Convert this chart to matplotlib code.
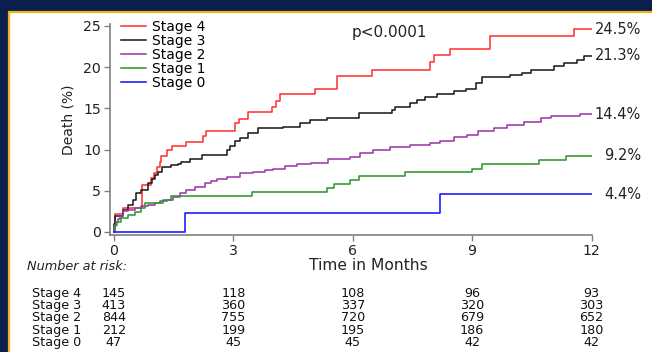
import matplotlib
matplotlib.use('Agg')
import matplotlib.pyplot as plt
from matplotlib.patches import Rectangle
from matplotlib.transforms import blended_transform_factory

# step curves (months, cumulative death %)
t4 = [0, 0.02, 0.23, 0.70, 0.93, 1.00, 1.07, 1.15, 1.17, 1.33, 1.45, 1.82, 2.24, 2.30, 3.04, 3.15, 3.38, 3.97, 4.07, 4.16, 5.05, 5.60, 6.48, 7.95, 8.03, 8.45, 9.44, 11.56, 12.0]
v4 = [0, 2.2, 2.9, 5.7, 6.5, 7.2, 7.9, 8.5, 9.2, 10.0, 10.4, 10.9, 11.6, 12.3, 13.2, 13.7, 14.5, 15.2, 15.9, 16.7, 17.4, 18.9, 19.7, 20.6, 21.5, 22.2, 23.8, 24.6, 24.6]

t3 = [0, 0.01, 0.03, 0.23, 0.35, 0.48, 0.56, 0.69, 0.86, 0.95, 1.03, 1.11, 1.20, 1.44, 1.61, 1.69, 1.90, 2.20, 2.79, 2.83, 2.92, 3.04, 3.17, 3.38, 3.63, 4.25, 4.68, 4.93, 5.35, 6.15, 6.98, 7.05, 7.45, 7.62, 7.82, 8.12, 8.54, 8.84, 9.10, 9.25, 9.96, 10.26, 10.47, 11.05, 11.30, 11.64, 11.80, 12.0]
v3 = [0, 1.0, 1.9, 2.7, 3.3, 3.9, 4.7, 5.1, 5.9, 6.4, 6.9, 7.3, 7.9, 8.1, 8.3, 8.5, 8.9, 9.35, 9.35, 9.9, 10.4, 11.0, 11.4, 12.0, 12.6, 12.8, 13.2, 13.6, 13.8, 14.4, 14.8, 15.2, 15.6, 16.0, 16.4, 16.75, 17.1, 17.4, 18.1, 18.8, 19.05, 19.3, 19.7, 20.1, 20.5, 20.9, 21.4, 21.4]

t2 = [0, 0.01, 0.05, 0.10, 0.15, 0.23, 0.35, 0.52, 0.69, 0.85, 1.02, 1.15, 1.32, 1.48, 1.65, 1.82, 2.03, 2.28, 2.45, 2.60, 2.83, 3.17, 3.50, 3.80, 4.00, 4.30, 4.60, 4.95, 5.39, 5.94, 6.19, 6.52, 6.94, 7.45, 7.95, 8.20, 8.54, 8.87, 9.15, 9.54, 9.88, 10.30, 10.72, 10.97, 11.72, 12.0]
v2 = [0, 0.7, 1.2, 1.6, 2.0, 2.5, 2.7, 2.9, 3.1, 3.3, 3.5, 3.7, 3.9, 4.2, 4.7, 5.1, 5.5, 6.0, 6.2, 6.4, 6.7, 7.1, 7.3, 7.5, 7.7, 7.95, 8.2, 8.4, 8.8, 9.1, 9.55, 9.95, 10.35, 10.55, 10.75, 11.1, 11.5, 11.8, 12.2, 12.6, 13.0, 13.4, 13.8, 14.1, 14.3, 14.3]

t1 = [0, 0.02, 0.07, 0.18, 0.35, 0.52, 0.69, 0.77, 1.23, 1.44, 3.48, 5.35, 5.52, 5.94, 6.15, 7.32, 9.00, 9.25, 10.68, 11.35, 12.0]
v1 = [0, 0.8, 1.25, 1.65, 2.05, 2.45, 2.9, 3.55, 3.9, 4.35, 4.85, 5.3, 5.8, 6.3, 6.8, 7.25, 7.7, 8.25, 8.75, 9.25, 9.25]

t0 = [0, 1.79, 8.20, 12.0]
v0 = [0, 2.25, 4.55, 4.55]

end_labels = ['24.5%', '21.3%', '14.4%', '9.2%', '4.4%']

risk_times = [0, 3, 6, 9, 12]
risk_names = ['Stage 4', 'Stage 3', 'Stage 2', 'Stage 1', 'Stage 0']
risk4 = [145, 118, 108, 96, 93]
risk3 = [413, 360, 337, 320, 303]
risk2 = [844, 755, 720, 679, 652]
risk1 = [212, 199, 195, 186, 180]
risk0 = [47, 45, 45, 42, 42]

W, H = 652.0, 352.0
fig = plt.figure(figsize=(6.52, 3.52), dpi=100, facecolor='#0b1f4f')
panel = Rectangle((8.5/W, -0.05), 1.0, (H-12)/H + 0.05, transform=fig.transFigure,
                  facecolor='white', edgecolor='#f2b21b', linewidth=1.6, zorder=0)
fig.add_artist(panel)

ax = fig.add_axes([110/W, 1-234.7/H, (591.5-110)/W, (234.7-23.5)/H])
ax.set_facecolor('white')

curves = [(t4, v4, '#ff3535'), (t3, v3, '#1e1e1e'), (t2, v2, '#9e3aab'),
          (t1, v1, '#2e9a2e'), (t0, v0, '#1515ff')]
for (t, v, c), name in zip(curves, risk_names):
    ax.step(t, v, where='post', color=c, lw=1.15, label=name)

for (t, v, c), lab in zip(curves, end_labels):
    ax.text(13.245, v[-1], lab, ha='right', va='center', fontsize=10.5,
            color='#222222', clip_on=False)

ax.set_xlim(-0.1, 12.0)
ax.set_ylim(-0.33, 25.3)
ax.set_xticks(risk_times)
ax.set_yticks([0, 5, 10, 15, 20, 25])
ax.tick_params(direction='out', length=4, width=1, color='#808080',
               labelcolor='#222222', labelsize=10.2, pad=2.5)
for s in ['top', 'right']:
    ax.spines[s].set_visible(False)
for s in ['left', 'bottom']:
    ax.spines[s].set_color('#808080')
    ax.spines[s].set_linewidth(1.2)

ax.legend(loc='upper left', bbox_to_anchor=(121/W, 1-20/H), bbox_transform=fig.transFigure,
          frameon=False, fontsize=10, handlelength=1.8, handletextpad=0.45,
          labelspacing=0.0, borderpad=0, borderaxespad=0)

fig.text(69/W, 1-120/H, 'Death (%)', rotation=90, ha='center', va='center',
         fontsize=10, color='#222222')
fig.text(368/W, 1-266/H, 'Time in Months', ha='center', va='center',
         fontsize=11.2, color='#222222')
fig.text(352/W, 1-37/H, 'p<0.0001', ha='left', va='baseline', fontsize=11,
         color='#222222')

fig.text(26.7/W, 1-266/H, 'Number at risk:', ha='left', va='center',
         fontsize=9.3, style='italic', color='#222222')
trans = blended_transform_factory(ax.transData, fig.transFigure)
for i, (name, row) in enumerate(zip(risk_names, [risk4, risk3, risk2, risk1, risk0])):
    y = 1 - (293.5 + 12.2*i)/H
    fig.text(31.7/W, y, name, ha='left', va='center', fontsize=9.2, color='#111111')
    for x, n in zip(risk_times, row):
        ax.text(x, y, str(n), transform=trans, ha='center', va='center',
                fontsize=9.2, color='#111111', clip_on=False)

fig.savefig('out.png', dpi=100, facecolor=fig.get_facecolor())
